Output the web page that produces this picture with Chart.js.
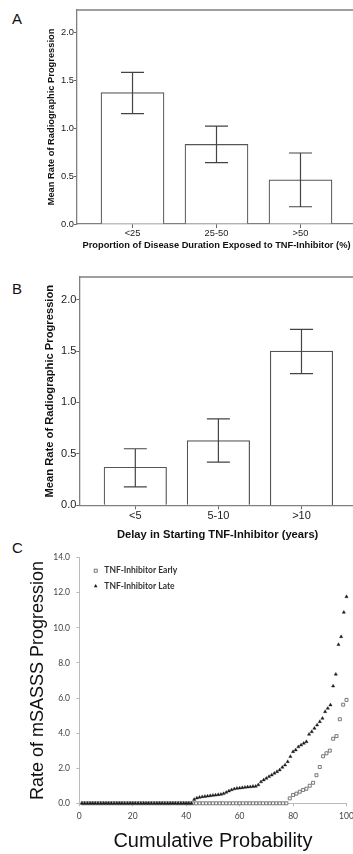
<!DOCTYPE html>
<html>
<head>
<meta charset="utf-8">
<script src="https://cdn.jsdelivr.net/npm/chart.js@4.4.1/dist/chart.umd.min.js"></script>
<style>
html, body { margin: 0; padding: 0; background: #fff; }
body { width: 353px; height: 854px; overflow: hidden; position: relative; }
canvas { position: absolute; left: 0; }
.panel { position: absolute; left: 12px; font: 15px "Liberation Sans", Arial, sans-serif; color: #111; }
</style>
</head>
<body>
<div class="panel" style="top:10px">A</div>
<div class="panel" style="top:280px">B</div>
<div class="panel" style="top:539px">C</div>
<canvas id="chartA" width="360" height="255" style="top:0px"></canvas>
<canvas id="chartB" width="360" height="280" style="top:265px"></canvas>
<canvas id="chartC" width="360" height="309" style="top:545px"></canvas>
<script>
// Panel A - proportion of disease duration exposed
const catsA = ['<25', '25-50', '>50'];
const meanA = [1.37, 0.83, 0.46];
const lowA = [1.15, 0.64, 0.18];
const highA = [1.58, 1.02, 0.74];

// Panel B - delay in starting TNF-inhibitor
const catsB = ['<5', '5-10', '>10'];
const meanB = [0.37, 0.63, 1.50];
const lowB = [0.18, 0.42, 1.28];
const highB = [0.55, 0.84, 1.71];

const yTicksAB = [0, 0.5, 1, 1.5, 2];
const titleYAB = 'Mean Rate of Radiographic Progression';

// Panel C - cumulative probability plot
const seriesC = ['TNF-Inhibitor Early', 'TNF-Inhibitor Late'];
const probEarly = [1.25, 2.5, 3.75, 5, 6.25, 7.5, 8.75, 10, 11.25, 12.5, 13.75, 15, 16.25, 17.5, 18.75, 20,
  21.25, 22.5, 23.75, 25, 26.25, 27.5, 28.75, 30, 31.25, 32.5, 33.75, 35, 36.25, 37.5, 38.75, 40,
  41.25, 42.5, 43.75, 45, 46.25, 47.5, 48.75, 50, 51.25, 52.5, 53.75, 55, 56.25, 57.5, 58.75, 60,
  61.25, 62.5, 63.75, 65, 66.25, 67.5, 68.75, 70, 71.25, 72.5, 73.75, 75, 76.25, 77.5, 78.75, 80,
  81.25, 82.5, 83.75, 85, 86.25, 87.5, 88.75, 90, 91.25, 92.5, 93.75, 95, 96.25, 97.5, 98.75, 100];
const rateEarly = [0, 0, 0, 0, 0, 0, 0, 0, 0, 0, 0, 0, 0, 0, 0, 0,
  0, 0, 0, 0, 0, 0, 0, 0, 0, 0, 0, 0, 0, 0, 0, 0,
  0, 0, 0, 0, 0, 0, 0, 0, 0, 0, 0, 0, 0, 0, 0, 0,
  0, 0, 0, 0, 0, 0, 0, 0, 0, 0, 0, 0, 0, 0, 0.28, 0.47,
  0.55, 0.66, 0.76, 0.83, 1.0, 1.17, 1.6, 2.07, 2.68, 2.85, 3.0, 3.68, 3.83, 4.79, 5.62, 5.89];
const probLate = [1, 2, 3, 4, 5, 6, 7, 8, 9, 10, 11, 12, 13, 14, 15, 16, 17, 18, 19, 20,
  21, 22, 23, 24, 25, 26, 27, 28, 29, 30, 31, 32, 33, 34, 35, 36, 37, 38, 39, 40,
  41, 42, 43, 44, 45, 46, 47, 48, 49, 50, 51, 52, 53, 54, 55, 56, 57, 58, 59, 60,
  61, 62, 63, 64, 65, 66, 67, 68, 69, 70, 71, 72, 73, 74, 75, 76, 77, 78, 79, 80,
  81, 82, 83, 84, 85, 86, 87, 88, 89, 90, 91, 92, 93, 94, 95, 96, 97, 98, 99, 100];
const rateLate = [0, 0, 0, 0, 0, 0, 0, 0, 0, 0, 0, 0, 0, 0, 0, 0, 0, 0, 0, 0,
  0, 0, 0, 0, 0, 0, 0, 0, 0, 0, 0, 0, 0, 0, 0, 0, 0, 0, 0, 0,
  0, 0, 0.22, 0.30, 0.34, 0.37, 0.39, 0.41, 0.43, 0.45, 0.47, 0.49, 0.51, 0.55, 0.62, 0.70, 0.77, 0.82, 0.85, 0.87,
  0.89, 0.91, 0.93, 0.94, 0.96, 0.97, 1.05, 1.22, 1.33, 1.42, 1.52, 1.61, 1.71, 1.80, 1.90, 2.05, 2.18, 2.37, 2.66, 2.94,
  3.04, 3.22, 3.32, 3.42, 3.51, 3.93, 4.08, 4.27, 4.46, 4.65, 4.84, 5.22, 5.41, 5.60, 6.68, 7.35, 9.04, 9.49, 10.88, 11.77];
const xTicksC = [0, 20, 40, 60, 80, 100];
const yTicksC = [0, 2, 4, 6, 8, 10, 12, 14];

Chart.defaults.font.family = '"Liberation Sans", Arial, sans-serif';
Chart.defaults.animation = false;

// error bars drawn with the chart's own scales
const errorBars = {
  id: 'errorBars',
  afterDatasetsDraw(chart, args, opts) {
    if (!opts.lows) return;
    const {ctx, scales: {x, y}} = chart;
    ctx.save();
    ctx.strokeStyle = '#444';
    ctx.lineWidth = 1.2;
    opts.lows.forEach((lo, i) => {
      const px = x.getPixelForValue(i + 1);
      const y1 = y.getPixelForValue(lo);
      const y2 = y.getPixelForValue(opts.highs[i]);
      ctx.beginPath();
      ctx.moveTo(px, y1); ctx.lineTo(px, y2);
      ctx.moveTo(px - opts.cap, y1); ctx.lineTo(px + opts.cap, y1);
      ctx.moveTo(px - opts.cap, y2); ctx.lineTo(px + opts.cap, y2);
      ctx.stroke();
    });
    ctx.restore();
  }
};

// top + right line of the box around panels A and B
const frameBox = {
  id: 'frameBox',
  afterDraw(chart) {
    const {ctx, chartArea: a} = chart;
    ctx.save();
    ctx.strokeStyle = '#808080';
    ctx.lineWidth = 1.3;
    ctx.beginPath();
    ctx.moveTo(a.left, a.top); ctx.lineTo(a.right, a.top); ctx.lineTo(a.right, a.bottom);
    ctx.stroke();
    ctx.restore();
  }
};

// scatter chart (linear x) holding one bar dataset, so bars sit on numeric positions
function barChart(id, cats, means, lows, highs, cfg) {
  return new Chart(document.getElementById(id), {
    type: 'scatter',
    data: {
      datasets: [{
        type: 'bar',
        data: means.map((v, i) => ({x: i + 1, y: v})),
        backgroundColor: '#fff',
        borderColor: '#555',
        borderWidth: 1.2,
        barThickness: cfg.barW
      }]
    },
    options: {
      responsive: false,
      layout: {padding: {top: cfg.top, right: 4, left: 0, bottom: 0}},
      plugins: {
        legend: {display: false},
        tooltip: {enabled: false},
        errorBars: {lows: lows, highs: highs, cap: 11.5}
      },
      scales: {
        x: {
          type: 'linear', min: cfg.xMin, max: cfg.xMax, offset: false,
          afterBuildTicks: s => { s.ticks = cats.map((c, i) => ({value: i + 1})); },
          afterFit: s => { s.height = cfg.xH; },
          ticks: {callback: (v, i) => cats[i], padding: 0, color: '#222', font: {size: cfg.tick}, maxRotation: 0},
          grid: {display: true, offset: false, drawOnChartArea: false, tickLength: 4, color: '#666'},
          border: {color: '#808080', width: 1.3},
          title: {display: true, text: cfg.xTitle, color: '#111',
            font: {size: cfg.title, weight: 'bold'}, padding: {top: 0, bottom: cfg.xTitlePad}}
        },
        y: {
          min: 0, max: cfg.yMax,
          afterBuildTicks: s => { s.ticks = yTicksAB.map(v => ({value: v})); },
          afterFit: s => { s.width = cfg.yW; },
          ticks: {callback: v => v.toFixed(1), padding: 0, color: '#222', font: {size: cfg.tick}},
          grid: {display: true, drawOnChartArea: false, tickLength: 3, color: '#666'},
          border: {color: '#808080', width: 1.3},
          title: {display: true, text: titleYAB, color: '#111',
            font: {size: cfg.title, weight: 'bold'}, padding: {top: cfg.yTitlePad, bottom: 0}}
        }
      }
    },
    plugins: [errorBars, frameBox]
  });
}

barChart('chartA', catsA, meanA, lowA, highA, {
  top: 10, xH: 31, yW: 77, xMin: 0.339, xMax: 3.661, yMax: 2.23, barW: 63,
  tick: 9.3, title: 9.3, xTitlePad: 4.4, yTitlePad: 46,
  xTitle: 'Proportion of Disease Duration Exposed to TNF-Inhibitor (%)'
});

barChart('chartB', catsB, meanB, lowB, highB, {
  top: 12, xH: 39.7, yW: 79.3, xMin: 0.326, xMax: 3.656, yMax: 2.22, barW: 62.5,
  tick: 11, title: 11.2, xTitlePad: 3.4, yTitlePad: 43.3,
  xTitle: 'Delay in Starting TNF-Inhibitor (years)'
});

// legend of panel C, inside the plot area
const legendC = {
  id: 'legendC',
  afterDraw(chart) {
    const {ctx, chartArea: a} = chart;
    const mx = a.left + 16.4, tx = a.left + 25;
    const y1 = a.top + 13.1, y2 = a.top + 28.4;
    ctx.save();
    ctx.strokeStyle = '#6a6a6a';
    ctx.fillStyle = '#fff';
    ctx.lineWidth = 0.9;
    ctx.fillRect(mx - 1.5, y1 - 1.5, 3, 3);
    ctx.strokeRect(mx - 1.5, y1 - 1.5, 3, 3);
    ctx.fillStyle = '#1a1a1a';
    ctx.beginPath();
    ctx.moveTo(mx, y2 - 2); ctx.lineTo(mx + 1.8, y2 + 1.3); ctx.lineTo(mx - 1.8, y2 + 1.3);
    ctx.closePath();
    ctx.fill();
    ctx.fillStyle = '#333';
    ctx.font = 'bold 8.5px Lato, sans-serif';
    ctx.textBaseline = 'middle';
    ctx.fillText(seriesC[0], tx, y1);
    ctx.fillText(seriesC[1], tx, y2);
    ctx.restore();
  }
};

new Chart(document.getElementById('chartC'), {
  type: 'scatter',
  data: {
    datasets: [
      {
        label: seriesC[0],
        data: probEarly.map((p, i) => ({x: p, y: rateEarly[i]})),
        pointStyle: 'rect', pointRadius: 2.1,
        backgroundColor: '#fff', borderColor: '#6a6a6a', borderWidth: 0.9,
        clip: false, order: 1
      },
      {
        label: seriesC[1],
        data: probLate.map((p, i) => ({x: p, y: rateLate[i]})),
        pointStyle: 'triangle', pointRadius: 1.9,
        backgroundColor: '#1a1a1a', borderColor: '#1a1a1a', borderWidth: 0.4,
        clip: false, order: 0
      }
    ]
  },
  options: {
    responsive: false,
    layout: {padding: {top: 12.6, right: 13.5, left: 0, bottom: 0}},
    plugins: {legend: {display: false}, tooltip: {enabled: false}},
    scales: {
      x: {
        type: 'linear', min: 0, max: 100,
        afterBuildTicks: s => { s.ticks = xTicksC.map(v => ({value: v})); },
        afterFit: s => { s.height = 50.7; },
        ticks: {padding: 5, color: '#444', font: {family: 'Lato, sans-serif', size: 8.5}, maxRotation: 0},
        grid: {display: true, drawOnChartArea: false, tickLength: 3, color: '#bbb'},
        border: {color: '#bbb', width: 1},
        title: {display: true, text: 'Cumulative Probability', color: '#111',
          font: {size: 20}, padding: {top: 0, bottom: 0.3}}
      },
      y: {
        min: 0, max: 14,
        afterBuildTicks: s => { s.ticks = yTicksC.map(v => ({value: v})); },
        afterFit: s => { s.width = 79.3; },
        ticks: {callback: v => v.toFixed(1), padding: 6.3, color: '#444', font: {family: 'Lato, sans-serif', size: 8.5}},
        grid: {display: true, drawOnChartArea: false, tickLength: 3, color: '#bbb'},
        border: {color: '#bbb', width: 1},
        title: {display: true, text: 'Rate of mSASSS Progression', color: '#111',
          font: {size: 18}, padding: {top: 26.9, bottom: 0}}
      }
    }
  },
  plugins: [legendC]
});
</script>
</body>
</html>
